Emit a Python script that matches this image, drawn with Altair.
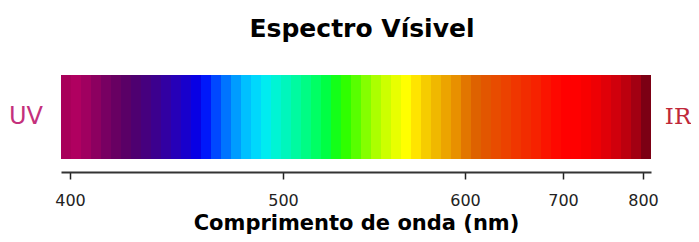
import altair as alt
import pandas as pd

# Colours of the spectrum stripes, left (UV side) to right (IR side)
stripe_colors = [
    "#a8005a", "#b00060", "#a00060", "#8c0060", "#780062", "#680062", "#5a0066",
    "#4e0070", "#46007e", "#3c008e", "#3200a2", "#2600b8", "#1800cc", "#0800e4",
    "#0018fa", "#0048ff", "#0074ff", "#009cff", "#00c0ff", "#00d8fc", "#00ecf0",
    "#00f4d4", "#00f6bc", "#00faa0", "#00fc84", "#00ff64", "#00ff44", "#14ff18",
    "#30ff00", "#58ff00", "#84ff00", "#acff00", "#ccff00", "#e8ff00", "#ffff00",
    "#ffe400", "#f6cc00", "#f0b800", "#eca400", "#e89000", "#e27600", "#de6200",
    "#e25600", "#e84c00", "#ec4200", "#f03600", "#f22c00", "#f62200", "#fa1400",
    "#fe0800", "#ff0000", "#ff0000", "#f80000", "#ee0004", "#e00008", "#d0000c",
    "#bc000e", "#a20012", "#7c0014",
]

# Wavelength axis (nm) – the original axis is not linear
tick_values = [400, 500, 600, 700, 800]
axis_domain = [396, 400, 500, 600, 700, 800, 810]
axis_range = [0, 9, 222, 404, 502, 582, 590]

title_text = "Espectro Vísivel"
axis_title = "Comprimento de onda (nm)"
left_label = "UV"
right_label = "IR"

W, H = 590, 84

stripes = pd.DataFrame({"i": list(range(len(stripe_colors))), "color": stripe_colors})
ticks = pd.DataFrame({"nm": tick_values})
one = pd.DataFrame({"k": [0]})

bar = alt.Chart(stripes).mark_rect(strokeWidth=0).encode(
    x=alt.X("i:O", axis=None, scale=alt.Scale(paddingInner=0, paddingOuter=0)),
    y=alt.value(0),
    y2=alt.value(H),
    color=alt.Color("color:N", scale=None, legend=None),
)

axis_layer = alt.Chart(ticks).mark_point(opacity=0).encode(
    x=alt.X(
        "nm:Q",
        scale=alt.Scale(domain=axis_domain, range=axis_range, nice=False, zero=False),
        axis=alt.Axis(
            values=tick_values,
            orient="bottom",
            offset=13,
            title=axis_title,
            grid=False,
            domainColor="#333333",
            domainWidth=2,
            tickColor="#222222",
            tickWidth=1.5,
            tickSize=7,
            labelFont="DejaVu Sans",
            labelFontSize=16,
            labelColor="#222222",
            labelPadding=13,
            titleFont="DejaVu Sans",
            titleFontSize=21,
            titleFontWeight="bold",
            titleColor="black",
            titlePadding=4,
        ),
    ),
    y=alt.value(H / 2),
)

uv = alt.Chart(one).mark_text(
    text=left_label, font="DejaVu Sans", fontSize=24,
    color="#c4307c", align="center", baseline="middle",
).encode(x=alt.value(-35), y=alt.value(H / 2))

ir = alt.Chart(one).mark_text(
    text=right_label, font="DejaVu Serif", fontSize=23,
    color="#c02838", align="center", baseline="middle",
).encode(x=alt.value(617), y=alt.value(H / 2))

chart = (
    alt.layer(bar, axis_layer, uv, ir)
    .resolve_scale(x="independent")
    .properties(
        width=W,
        height=H,
        autosize=alt.AutoSizeParams(type="none"),
        padding={"left": 53, "top": 67, "right": 40, "bottom": 75},
        title=alt.TitleParams(
            title_text, font="DejaVu Sans", fontSize=25, fontWeight="bold",
            color="black", anchor="middle", offset=13, baseline="alphabetic", dx=6,
        ),
    )
    .configure_view(stroke=None)
)

chart.save("out.html", embed_options={"renderer": "svg", "actions": False})
